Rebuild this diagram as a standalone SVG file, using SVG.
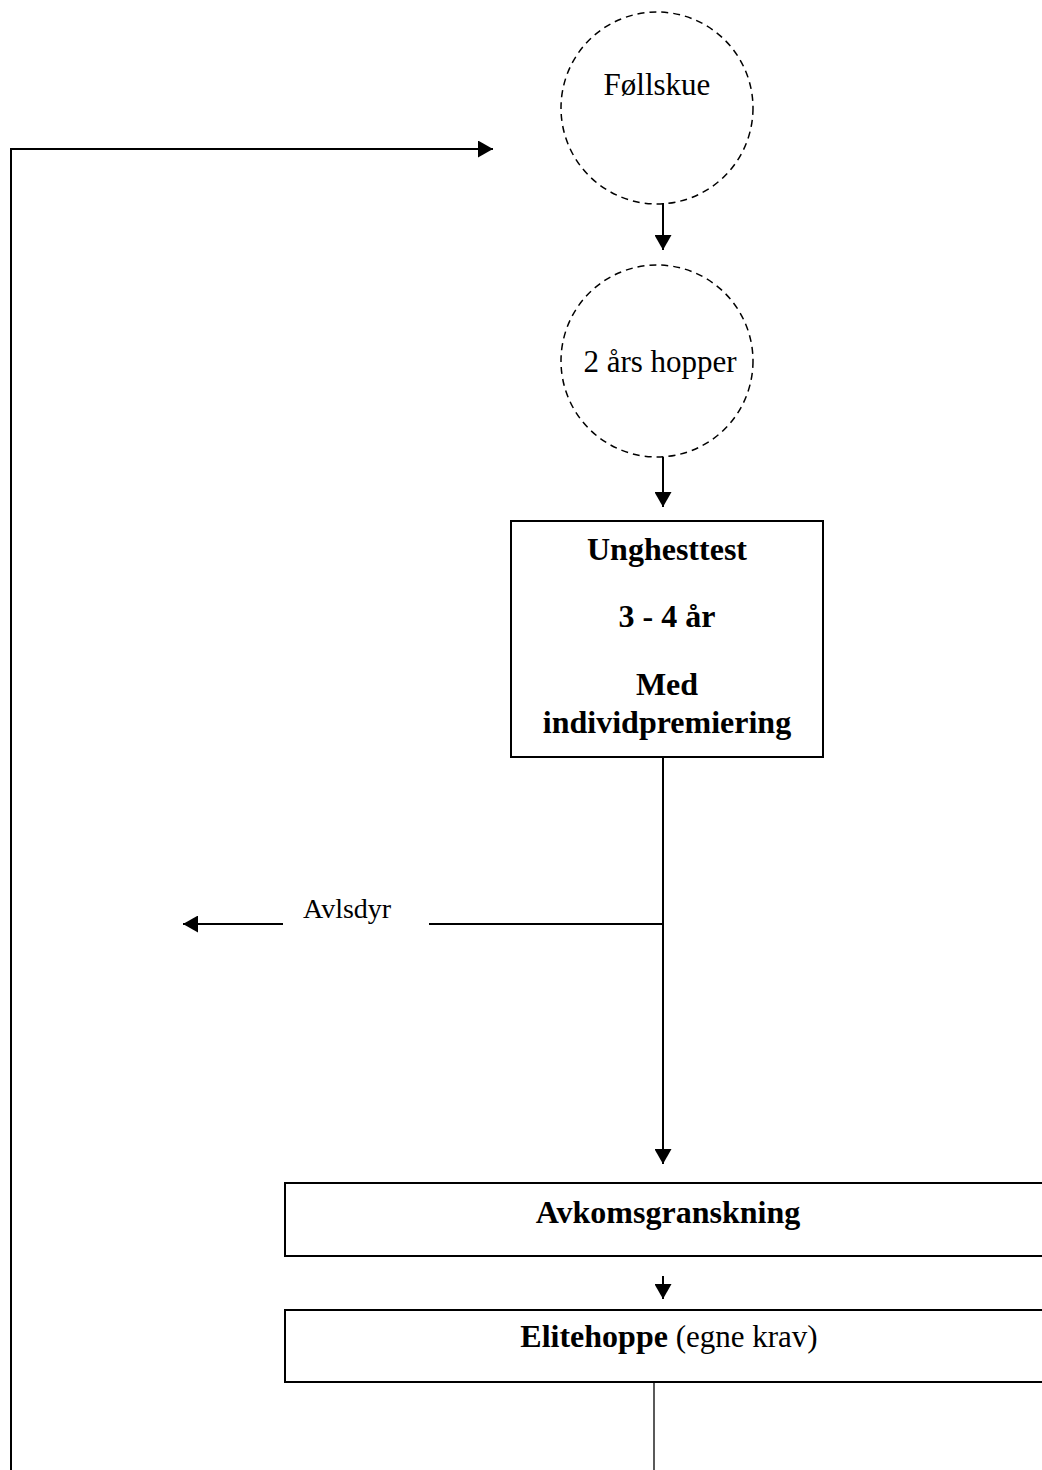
<svg xmlns="http://www.w3.org/2000/svg" width="1042" height="1470" viewBox="0 0 1042 1470">
  <style>
    .reg { font-family: "Liberation Serif", "Times New Roman", serif; font-size: 31px; fill: #000; }
    .bold { font-family: "Liberation Serif", "Times New Roman", serif; font-size: 32px; font-weight: bold; fill: #000; }
    .circ { fill: none; stroke: #000; stroke-width: 1.5; stroke-dasharray: 7 5; }
    .box { fill: #fff; stroke: #000; stroke-width: 2; }
    .conn { fill: none; stroke: #000; stroke-width: 2; }
  </style>
  <defs>
    <marker id="arrow" markerUnits="userSpaceOnUse" markerWidth="16" markerHeight="17" refX="15" refY="8.5" orient="auto">
      <path d="M0,0 L15,8.5 L0,17 z" fill="#000"/>
    </marker>
  </defs>
  <rect width="1042" height="1470" fill="#fff"/>

  <g id="connectors">
    <polyline class="conn" points="11,1470 11,149 493,149" marker-end="url(#arrow)"/>
    <line class="conn" x1="663" y1="203" x2="663" y2="250" marker-end="url(#arrow)"/>
    <line class="conn" x1="663" y1="457" x2="663" y2="507" marker-end="url(#arrow)"/>
    <line class="conn" x1="663" y1="757" x2="663" y2="1164" marker-end="url(#arrow)"/>
    <line class="conn" x1="663" y1="924" x2="429" y2="924"/>
    <line class="conn" x1="283" y1="924" x2="183" y2="924" marker-end="url(#arrow)"/>
    <line class="conn" x1="663" y1="1276" x2="663" y2="1299" marker-end="url(#arrow)"/>
    <line class="conn" x1="654" y1="1382" x2="654" y2="1470" style="stroke-width:1.3"/>
    <text class="reg" x="303" y="918" style="font-size:28px">Avlsdyr</text>
  </g>

  <g id="follskue">
    <circle class="circ" cx="657" cy="108" r="96"/>
    <text class="reg" x="657" y="95" text-anchor="middle">Føllskue</text>
  </g>

  <g id="toars-hopper">
    <circle class="circ" cx="657" cy="361" r="96"/>
    <text class="reg" x="660" y="372" text-anchor="middle">2 års hopper</text>
  </g>

  <g id="unghesttest">
    <rect class="box" x="511" y="521" width="312" height="236"/>
    <text class="bold" x="667" y="560" text-anchor="middle">Unghesttest</text>
    <text class="bold" x="667" y="627" text-anchor="middle">3 - 4 år</text>
    <text class="bold" x="667" y="695" text-anchor="middle">Med</text>
    <text class="bold" x="667" y="733" text-anchor="middle">individpremiering</text>
  </g>

  <g id="avkomsgranskning">
    <rect class="box" x="285" y="1183" width="770" height="73"/>
    <text class="bold" x="668" y="1223" text-anchor="middle">Avkomsgranskning</text>
  </g>

  <g id="elitehoppe">
    <rect class="box" x="285" y="1310" width="770" height="72"/>
    <text class="reg" x="669" y="1347" text-anchor="middle"><tspan class="bold">Elitehoppe</tspan> (egne krav)</text>
  </g>
</svg>
